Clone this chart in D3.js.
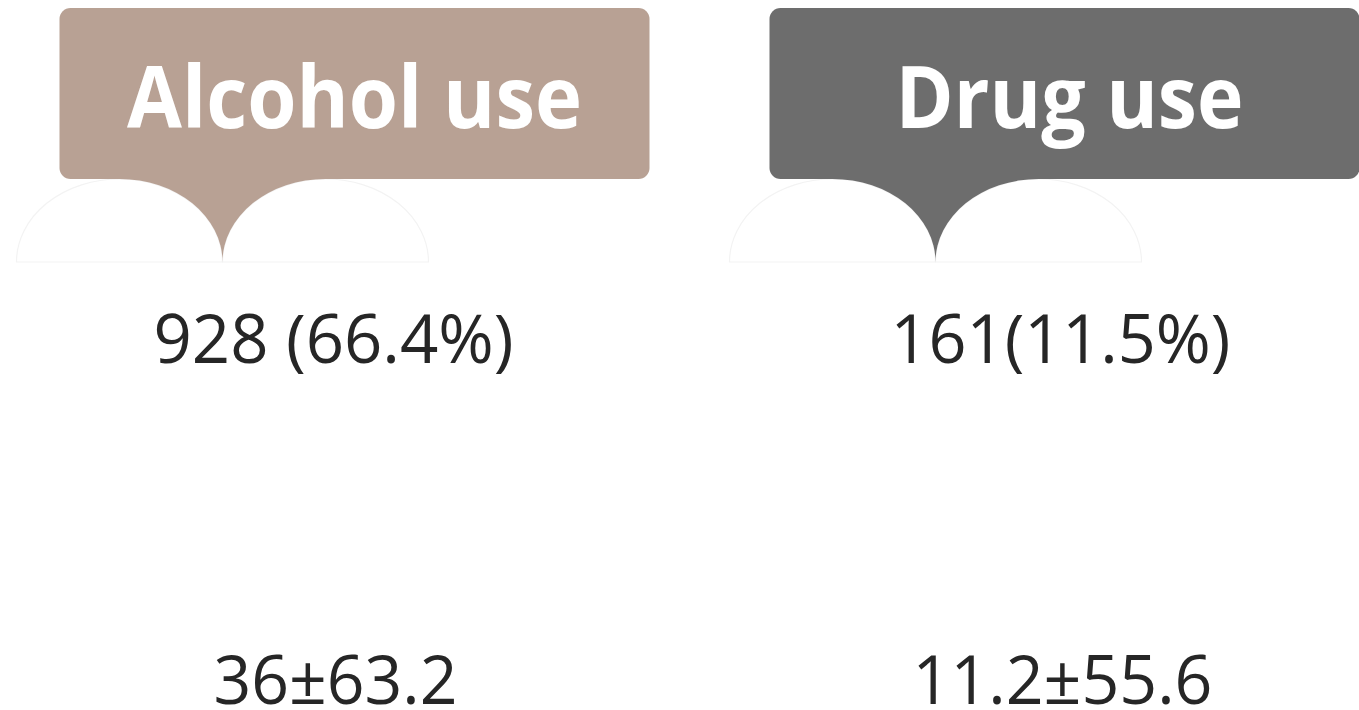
<!DOCTYPE html>
<html>
<head>
<meta charset="utf-8">
<script src="https://cdn.jsdelivr.net/npm/d3@7"></script>
<style>
  html, body { margin: 0; padding: 0; background: #fff; }
  svg { display: block; }
</style>
</head>
<body>
<svg id="chart" width="1359" height="710"></svg>
<script>
// data
const categories = ['Alcohol use', 'Drug use'];
const counts = [928, 161];
const percents = [66.4, 11.5];
const countLabels = ['928 (66.4%)', '161(11.5%)'];
const meanLabels = ['36±63.2', '11.2±55.6'];
const colors = ['#b8a194', '#6d6d6d'];

const width = 1359, height = 710;
const svg = d3.select('#chart');

// two columns, centers at ~354 and ~1063
const x = d3.scaleBand().domain(categories).range([0, 1418]).padding(0);
const cx = d => x(d) + x.bandwidth() / 2;

const boxW = 590, boxTop = 8, boxBottom = 179, tailTip = 262;
const tailOffsets = [-132, -128], rxE = 103;
const boxShift = [0, 1];

const cols = svg.selectAll('g.col')
  .data(categories)
  .join('g')
  .attr('class', 'col')
  .attr('transform', d => `translate(${cx(d)},0)`);

// bubble shapes
cols.each(function(d, i) {
  const g = d3.select(this);
  const tx = tailOffsets[i];
  const ry = tailTip - boxBottom;
  // faint outlines of the tail ellipses
  [tx - rxE, tx + rxE].forEach(ecx => {
    g.append('path')
      .attr('d', `M${ecx - rxE},${tailTip} A${rxE},${ry} 0 0 1 ${ecx + rxE},${tailTip} Z`)
      .attr('fill', '#fff')
      .attr('stroke', '#f3f3f3')
      .attr('stroke-width', 1.2);
  });

  // tail between the two ellipses
  g.append('path')
    .attr('d', `M${tx - rxE},${boxBottom - 2} L${tx - rxE},${boxBottom}` +
      ` A${rxE},${ry} 0 0 1 ${tx},${tailTip}` +
      ` A${rxE},${ry} 0 0 1 ${tx + rxE},${boxBottom}` +
      ` L${tx + rxE},${boxBottom - 2} Z`)
    .attr('fill', colors[i]);

  g.append('rect')
    .attr('x', -boxW / 2 + boxShift[i])
    .attr('y', boxTop)
    .attr('width', boxW)
    .attr('height', boxBottom - boxTop)
    .attr('rx', 11)
    .attr('fill', colors[i]);
});

const titleWidths = [455, 348];
const titleShift = [0, 6];
cols.append('text')
  .attr('x', (d, i) => titleShift[i])
  .attr('y', 128)
  .attr('text-anchor', 'middle')
  .attr('font-family', '"Open Sans", sans-serif')
  .attr('font-weight', 700)
  .attr('font-size', 86)
  .attr('fill', '#fff')
  .attr('textLength', (d, i) => titleWidths[i])
  .attr('lengthAdjust', 'spacingAndGlyphs')
  .text(d => d);

const countWidths = [360, 340];
const countShift = [-21, -3];
cols.append('text')
  .attr('x', (d, i) => countShift[i])
  .attr('y', 363)
  .attr('text-anchor', 'middle')
  .attr('font-family', '"Open Sans", sans-serif')
  .attr('font-size', 68)
  .attr('fill', '#262626')
  .attr('textLength', (d, i) => countWidths[i])
  .attr('lengthAdjust', 'spacingAndGlyphs')
  .text((d, i) => countLabels[i]);

const meanWidths = [244, 300];
const meanShift = [-19, -1];
cols.append('text')
  .attr('x', (d, i) => meanShift[i])
  .attr('y', 704)
  .attr('text-anchor', 'middle')
  .attr('font-family', '"Open Sans", sans-serif')
  .attr('font-size', 68)
  .attr('fill', '#262626')
  .attr('textLength', (d, i) => meanWidths[i])
  .attr('lengthAdjust', 'spacingAndGlyphs')
  .text((d, i) => meanLabels[i]);
</script>
</body>
</html>
